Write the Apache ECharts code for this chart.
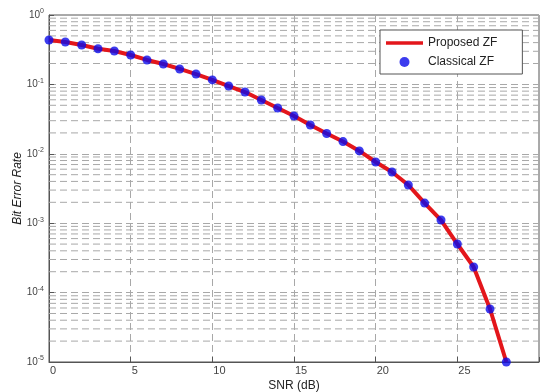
<!DOCTYPE html>
<html><head><meta charset="utf-8">
<script src="https://cdn.jsdelivr.net/npm/echarts@6/dist/echarts.min.js"></script>
<style>html,body{margin:0;padding:0;background:#fff}#c{width:540px;height:392px}</style>
</head><body><div id="c"></div>
<script>
const snr = [0,1,2,3,4,5,6,7,8,9,10,11,12,13,14,15,16,17,18,19,20,21,22,23,24,25,26,27,28];
const proposedBer = [0.436,0.408,0.370,0.326,0.303,0.265,0.225,0.197,0.167,0.141,0.116,0.0948,0.0777,0.0596,0.0457,0.0351,0.0260,0.0196,0.0150,0.0110,0.00762,0.00547,0.00355,0.00195,0.00111,0.000501,0.000234,0.0000581,0.00001];
const classicalBer = [0.436,0.408,0.370,0.326,0.303,0.265,0.225,0.197,0.167,0.141,0.116,0.0948,0.0777,0.0596,0.0457,0.0351,0.0260,0.0196,0.0150,0.0110,0.00762,0.00547,0.00355,0.00195,0.00111,0.000501,0.000234,0.0000581,0.00001];
const xTicks = [0,5,10,15,20,25,30];
const minorExponents = [-1,-2,-3,-4,-5];
const minorMantissas = [2,3,4,5,6,7,8,9];

const minorData = [];
minorExponents.forEach(e => minorMantissas.forEach(m => {
  const v = m * Math.pow(10, e);
  minorData.push([0, v], [30, v], '-');
}));

const gridDash = {color:'#a8a8a8', width:1, type:[7,4]};
const font = 'Liberation Sans, Arial';
const chart = echarts.init(document.getElementById('c'), null, {renderer:'canvas'});
chart.setOption({
  animation:false,
  backgroundColor:'#fff',
  grid:{left:49, top:15, right:1, bottom:30, outerBoundsMode:'none', containLabel:false,
        show:true, borderColor:'#555', borderWidth:1, backgroundColor:'#fff'},
  legend:{
    left:380, top:30, orient:'vertical', z:20,
    backgroundColor:'#fff', borderColor:'#555', borderWidth:1,
    padding:[7,25,6,6], itemGap:7, itemWidth:37, itemHeight:10,
    textStyle:{fontFamily:font, fontSize:12, color:'#222'},
    data:[
      {name:'Proposed ZF', icon:'path://M0,0 H40 V4 H0 Z'},
      {name:'Classical ZF', icon:'circle'}
    ]
  },
  xAxis:{
    type:'value', min:0, max:30, interval:5,
    name:'SNR (dB)', nameLocation:'middle', nameGap:18, nameMoveOverlap:false,
    nameTextStyle:{fontFamily:font, fontSize:12, color:'#222'},
    axisLine:{show:true, lineStyle:{color:'#555'}},
    axisTick:{show:true, inside:true, length:5, lineStyle:{color:'#555'}},
    axisLabel:{fontFamily:font, fontSize:11, color:'#444', align:'left', padding:[0,0,0,1], margin:3,
      showMaxLabel:true, hideOverlap:false,
      formatter: v => xTicks.indexOf(v) >= 0 ? String(v) : ''},
    splitLine:{show:true, lineStyle:gridDash}
  },
  yAxis:{
    type:'log', logBase:10, min:1e-5, max:1,
    name:'Bit Error Rate', nameLocation:'middle', nameGap:25, nameRotate:90, nameMoveOverlap:false,
    nameTextStyle:{fontFamily:font, fontSize:12, color:'#222', fontStyle:'italic'},
    axisLine:{show:true, lineStyle:{color:'#555'}},
    axisTick:{show:true, inside:true, length:5, lineStyle:{color:'#555'}},
    axisLabel:{margin:5, fontFamily:font, color:'#444',
      formatter: v => { const e = Math.round(Math.log10(v)); return '{b|10}{s|' + e + '}'; },
      rich:{b:{fontSize:10, color:'#444', fontFamily:font},
            s:{fontSize:7, color:'#444', fontFamily:font, padding:[0,0,7,0]}}},
    splitLine:{show:true, lineStyle:gridDash}
  },
  series:[
    {name:'minor', type:'line', z:1, silent:true, symbol:'none', showSymbol:false,
     connectNulls:false, lineStyle:gridDash, emphasis:{disabled:true}, data:minorData},
    {name:'Proposed ZF', type:'line', z:3, showSymbol:false, symbol:'none',
     lineStyle:{color:'#e3161b', width:4}, itemStyle:{color:'#e3161b'},
     data: snr.map((x,i) => [x, proposedBer[i]])},
    {name:'Classical ZF', type:'scatter', z:4, clip:false, symbol:'circle', symbolSize:9,
     itemStyle:{color:'#0b0bea'},
     data: snr.map((x,i) => [x, classicalBer[i]])}
  ]
});
</script></body></html>
